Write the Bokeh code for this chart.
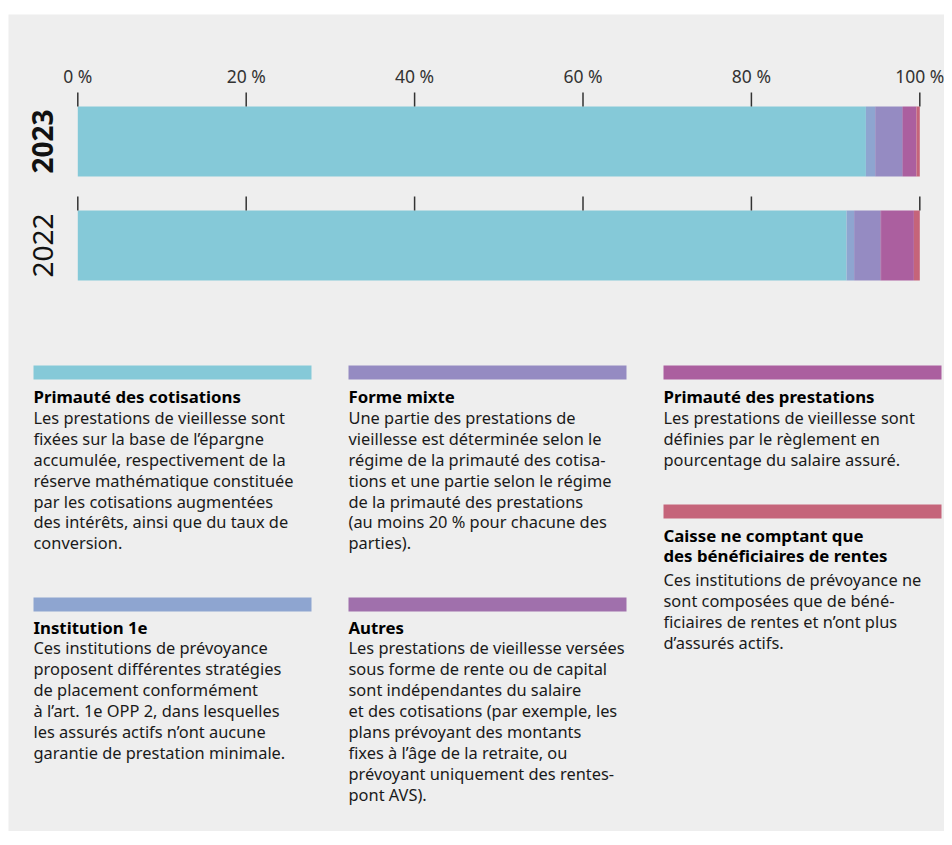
import numpy as np
from bokeh.plotting import figure
from bokeh.models import Range1d, Spacer
from bokeh.layouts import column, row
from bokeh.core.properties import value
from bokeh.embed import file_html
from bokeh.resources import INLINE

# ---------------- data ----------------
years = ["2023", "2022"]
series_names = ["Primauté des cotisations", "Institution 1e", "Forme mixte",
                "Autres", "Primauté des prestations",
                "Caisse ne comptant que des bénéficiaires de rentes"]
cotisations = [93.6, 91.3]
institution_1e = [1.1, 0.9]
forme_mixte = [3.2, 3.1]
autres = [0.1, 0.1]
prestations = [1.6, 3.9]
caisse_rentiers = [0.4, 0.7]
series_values = [cotisations, institution_1e, forme_mixte, autres, prestations, caisse_rentiers]
series_colors = ["#85c9d8", "#8ea5d0", "#958bc2", "#a070ac", "#ab5f9f", "#c5647a"]

tick_values = [0, 20, 40, 60, 80, 100]
tick_labels = ["0 %", "20 %", "40 %", "60 %", "80 %", "100 %"]

legend_titles = [
    ["Primauté des cotisations"],
    ["Institution 1e"],
    ["Forme mixte"],
    ["Autres"],
    ["Primauté des prestations"],
    ["Caisse ne comptant que", "des bénéficiaires de rentes"],
]
legend_bodies = [
    ["Les prestations de vieillesse sont",
     "fixées sur la base de l’épargne",
     "accumulée, respectivement de la",
     "réserve mathématique constituée",
     "par les cotisations augmentées",
     "des intérêts, ainsi que du taux de",
     "conversion."],
    ["Ces institutions de prévoyance",
     "proposent différentes stratégies",
     "de placement conformément",
     "à l’art. 1e OPP 2, dans lesquelles",
     "les assurés actifs n’ont aucune",
     "garantie de prestation minimale."],
    ["Une partie des prestations de",
     "vieillesse est déterminée selon le",
     "régime de la primauté des cotisa-",
     "tions et une partie selon le régime",
     "de la primauté des prestations",
     "(au moins 20 % pour chacune des",
     "parties)."],
    ["Les prestations de vieillesse versées",
     "sous forme de rente ou de capital",
     "sont indépendantes du salaire",
     "et des cotisations (par exemple, les",
     "plans prévoyant des montants",
     "fixes à l’âge de la retraite, ou",
     "prévoyant uniquement des rentes-",
     "pont AVS)."],
    ["Les prestations de vieillesse sont",
     "définies par le règlement en",
     "pourcentage du salaire assuré."],
    ["Ces institutions de prévoyance ne",
     "sont composées que de béné-",
     "ficiaires de rentes et n’ont plus",
     "d’assurés actifs."],
]

# ---------------- layout (pixels) ----------------
W, H = 936, 817
PX0, PX100 = 69.3, 911.3
scale = (PX100 - PX0) / 100.0
FONT = "Noto Sans"
LINE = 20.9

p = figure(width=W, height=H,
           x_range=Range1d(-PX0 / scale, (W - PX0) / scale),
           y_range=Range1d(H, 0),
           output_backend="svg", toolbar_location=None,
           x_axis_location=None, y_axis_location=None,
           min_border=0, background_fill_color="#eeeeee",
           border_fill_color="#eeeeee", outline_line_color=None)
p.grid.visible = False
p.extra_x_ranges = {"px": Range1d(0, W)}

bar_centers = [127, 231]
bar_h = 70

left = np.zeros(len(years))
for vals, col in zip(series_values, series_colors):
    v = np.array(vals)
    p.hbar(y=bar_centers, left=left, right=left + v, height=bar_h,
           fill_color=col, line_color=None)
    left = left + v

# tick marks above each bar
for yc in bar_centers:
    top = yc - bar_h / 2
    p.segment(x0=tick_values, x1=tick_values, y0=[top - 14] * len(tick_values),
              y1=[top] * len(tick_values), line_color="#333333", line_width=1.5)

p.text(x=tick_values, y=[61] * len(tick_values), text=tick_labels,
       text_align="center", text_baseline="alphabetic",
       text_font=value(FONT), text_font_size="17.5px", text_color="#333333")

# year labels
p.text(x=[34], y=[bar_centers[0]], text=[years[0]], angle=np.pi / 2,
       x_range_name="px", text_align="center", text_baseline="middle",
       text_font=value(FONT), text_font_size="28px", text_font_style="bold",
       text_color="#111111")
p.text(x=[34], y=[bar_centers[1]], text=[years[1]], angle=np.pi / 2,
       x_range_name="px", text_align="center", text_baseline="middle",
       text_font=value(FONT), text_font_size="28px", text_font_style="normal",
       text_color="#111111")

# legend blocks: (x_left, swatch_top, title_baseline)
block_pos = [
    (25, 351, 382.0),   # cotisations
    (25, 583, 612.5),   # 1e
    (340, 351, 382.0),  # mixte
    (340, 583, 612.5),  # autres
    (655, 351, 382.0),  # prestations
    (655, 490, 520.5),  # caisse
]
sw_w, sw_h = 278, 14
for i, (xl, st, tb) in enumerate(block_pos):
    p.quad(left=[xl], right=[xl + sw_w], top=[st], bottom=[st + sw_h],
           x_range_name="px", fill_color=series_colors[i], line_color=None)
    titles = legend_titles[i]
    ty = [tb + LINE * k for k in range(len(titles))]
    p.text(x=[xl] * len(titles), y=ty, text=titles, x_range_name="px",
           text_align="left", text_baseline="alphabetic",
           text_font=value(FONT), text_font_size="16.8px", text_font_style="bold",
           text_color="#000000")
    body = legend_bodies[i]
    extra = 2.5 if len(titles) > 1 else 0
    by = [ty[-1] + extra + LINE * (k + 1) for k in range(len(body))]
    p.text(x=[xl] * len(body), y=by, text=body, x_range_name="px",
           text_align="left", text_baseline="alphabetic",
           text_font=value(FONT), text_font_size="16.4px",
           text_color="#1a1a1a")

layout = column(Spacer(height=14), row(Spacer(width=8), p))
open("out.html", "w").write(file_html(layout, INLINE))
